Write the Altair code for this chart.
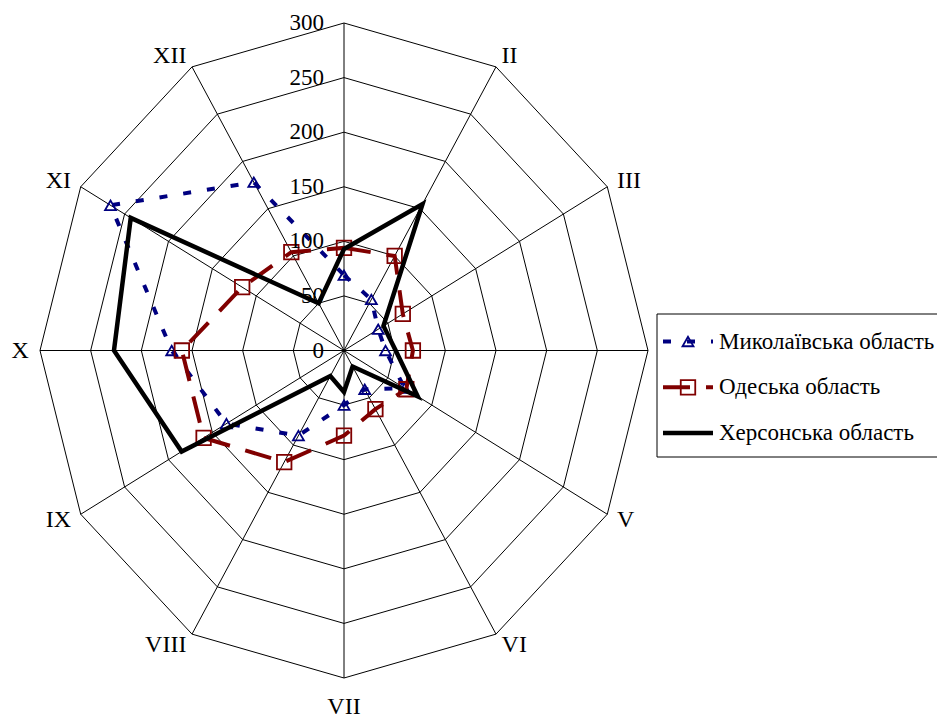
import altair as alt
import pandas as pd

# Monthly values per region (radial scale 0-300)
months = ["I", "II", "III", "IV", "V", "VI", "VII", "VIII", "IX", "X", "XI", "XII"]
mykolaiv = [69, 54, 39, 41, 69, 41, 50, 90, 134, 170, 266, 178]
odesa = [94, 100, 67, 68, 71, 62, 78, 118, 160, 160, 116, 104]
kherson = [93, 155, 45, 51, 84, 17, 38, 27, 185, 227, 243, 50]
series_names = ["Миколаївська область", "Одеська область", "Херсонська область"]
ring_values = [50, 100, 150, 200, 250, 300]
tick_values = [0, 50, 100, 150, 200, 250, 300]
r_max = 300

FONT = "Liberation Serif"

# Long-form tables built from the arrays above
rows = []
for name, vals in zip(series_names, [mykolaiv, odesa, kherson]):
    for i, (m, v) in enumerate(zip(months, vals)):
        rows.append({"series": name, "month": m, "idx": i, "r": v})
series_df = pd.DataFrame(rows)
grid_df = pd.DataFrame(
    [{"ring": rv, "idx": i, "r": rv} for rv in ring_values for i in range(len(months))]
)
spoke_df = pd.DataFrame({"idx": list(range(len(months))), "month": months, "r": r_max})
tick_df = pd.DataFrame({"label": [str(t) for t in tick_values], "r": tick_values})
legend_df = pd.DataFrame({"series": series_names, "pos": [0, 1, 2]})

SCALE = alt.Scale(domain=[-r_max, r_max], nice=False, zero=False)
X = alt.X("x:Q", scale=SCALE, axis=None)
Y = alt.Y("y:Q", scale=SCALE, axis=None)


def polar(chart):
    """Angle 0 at the top, clockwise, one spoke per month."""
    return (
        chart.transform_calculate(ang="datum.idx * PI / 6")
        .transform_calculate(x="datum.r * sin(datum.ang)")
        .transform_calculate(y="datum.r * cos(datum.ang)")
    )


layers = []

# Concentric dodecagon grid
layers.append(
    polar(alt.Chart(grid_df))
    .mark_line(color="black", strokeWidth=1, interpolate="linear-closed")
    .encode(x=X, y=Y, detail="ring:N", order="idx:Q")
)

# Spokes
layers.append(
    polar(alt.Chart(spoke_df))
    .transform_calculate(x0="0", y0="0")
    .mark_rule(color="black", strokeWidth=1)
    .encode(
        x=alt.X("x0:Q", scale=SCALE, axis=None),
        y=alt.Y("y0:Q", scale=SCALE, axis=None),
        x2="x:Q",
        y2="y:Q",
    )
)

# Series styles
styles = {
    series_names[0]: dict(color="#000080", width=4, dash=[8, 16], shape="triangle-up", size=120),
    series_names[1]: dict(color="#800000", width=4, dash=[27, 16], shape="square", size=210),
    series_names[2]: dict(color="#000000", width=4.5, dash=None, shape=None, size=None),
}

for name in series_names:
    st = styles[name]
    base = polar(alt.Chart(series_df).transform_filter(alt.datum.series == name))
    line_kw = dict(color=st["color"], strokeWidth=st["width"], interpolate="linear-closed")
    if st["dash"]:
        line_kw["strokeDash"] = st["dash"]
    layers.append(base.mark_line(**line_kw).encode(x=X, y=Y, order="idx:Q"))
    if st["shape"]:
        layers.append(
            base.mark_point(
                shape=st["shape"], size=st["size"], filled=False,
                color=st["color"], strokeWidth=1.8, opacity=1,
            ).encode(x=X, y=Y)
        )

# Radial tick labels along the top spoke
layers.append(
    alt.Chart(tick_df)
    .transform_calculate(x0="0")
    .mark_text(align="right", baseline="middle", dx=-20, fontSize=23, font=FONT, color="black")
    .encode(
        x=alt.X("x0:Q", scale=SCALE, axis=None),
        y=alt.Y("r:Q", scale=SCALE, axis=None),
        text="label:N",
    )
)

# Month labels just outside the outer ring
month_base = (
    alt.Chart(spoke_df)
    .transform_calculate(ang="datum.idx * PI / 6")
    .transform_calculate(s="sin(datum.ang)", c="cos(datum.ang)")
    .transform_calculate(lr="abs(datum.s) < 0.01 ? 327 : 311")
    .transform_calculate(x="datum.lr * datum.s", y="datum.lr * datum.c")
)
for cond, align, baseline in [
    ("datum.s < -0.01", "right", "middle"),
    ("datum.s > 0.01", "left", "middle"),
    ("abs(datum.s) <= 0.01 && datum.c < 0", "center", "middle"),
    ("abs(datum.s) <= 0.01 && datum.c > 0", "center", "alphabetic"),
]:
    layers.append(
        month_base.transform_filter(cond)
        .mark_text(align=align, baseline=baseline, fontSize=24, font=FONT, color="black")
        .encode(x=X, y=Y, text="month:N")
    )

# Legend box and entries
LEG_X, LEG_Y0, LEG_DY = 617, 318.5, 45.8
layers.append(
    alt.Chart(legend_df)
    .transform_filter(alt.datum.pos == 0)
    .mark_rect(fill="white", stroke="black", strokeWidth=1)
    .encode(
        x=alt.value(LEG_X), x2=alt.value(905),
        y=alt.value(291), y2=alt.value(434),
    )
)
for i, name in enumerate(series_names):
    st = styles[name]
    ly = LEG_Y0 + LEG_DY * i
    entry = alt.Chart(legend_df).transform_filter(alt.datum.series == name)
    rule_kw = dict(color=st["color"], strokeWidth=st["width"])
    if st["dash"]:
        rule_kw["strokeDash"] = st["dash"]
    layers.append(
        entry.mark_rule(**rule_kw).encode(
            x=alt.value(LEG_X + 6), x2=alt.value(LEG_X + 56), y=alt.value(ly)
        )
    )
    if st["shape"]:
        layers.append(
            entry.mark_point(
                shape=st["shape"], size=st["size"], filled=False,
                color=st["color"], strokeWidth=1.8, opacity=1,
            ).encode(x=alt.value(LEG_X + 31), y=alt.value(ly))
        )
    layers.append(
        entry.mark_text(align="left", baseline="middle", fontSize=23, font=FONT, color="black")
        .encode(x=alt.value(LEG_X + 62), y=alt.value(ly), text="series:N")
    )

chart = (
    alt.layer(*layers)
    .properties(
        width=608,
        height=655,
        padding={"left": 40, "top": 23, "right": 289, "bottom": 38},
        autosize=alt.AutoSizeParams(type="none"),
        background="white",
    )
    .configure_view(strokeWidth=0)
)

chart.save("out.html", embed_options={"renderer": "svg", "actions": False})
